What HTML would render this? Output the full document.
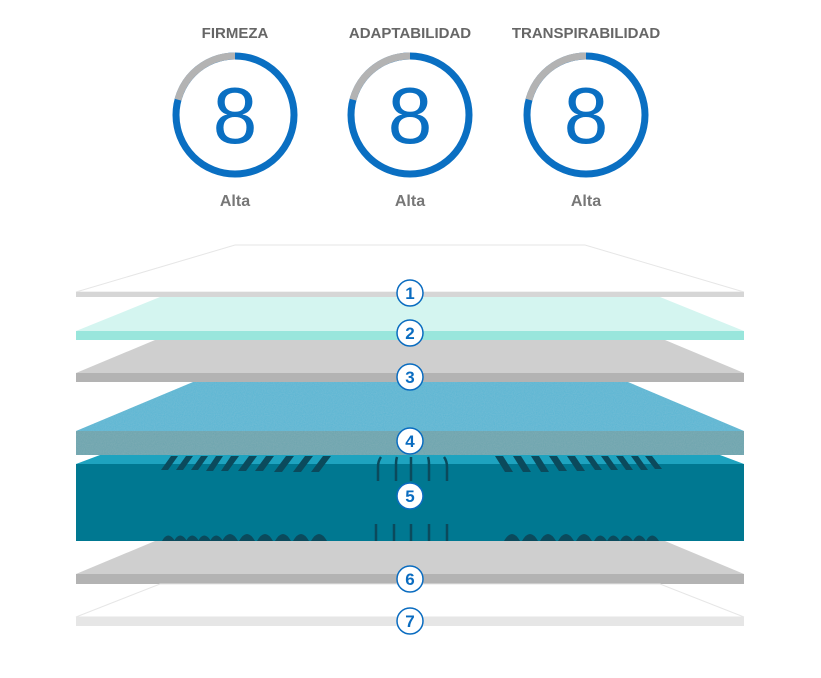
<!DOCTYPE html>
<html><head><meta charset="utf-8"><style>
html,body{margin:0;padding:0;background:#fff;}
svg{display:block;}
text{font-family:"Liberation Sans",sans-serif;}
</style></head><body>
<svg width="821" height="678" viewBox="0 0 821 678" xmlns="http://www.w3.org/2000/svg">
<defs>
<filter id="noise" x="0" y="0" width="100%" height="100%">
<feTurbulence type="fractalNoise" baseFrequency="0.9" numOctaves="2" result="n"/>
<feColorMatrix type="matrix" values="0 0 0 0 1  0 0 0 0 1  0 0 0 0 1  0 0 0 0.08 0"/>
<feComposite in2="SourceGraphic" operator="in"/>
<feBlend in="SourceGraphic" mode="screen"/>
</filter>
</defs>
<!-- gauges -->
<g>
<g transform="translate(235,115)">
<circle r="59" fill="none" stroke="#0a6fc2" stroke-width="7"/>
<path d="M0,-59 A59,59 0 0 0 -57,-15.3" fill="none" stroke="#b3b3b3" stroke-width="7"/>
<text x="0" y="28" text-anchor="middle" font-size="80" fill="#0a6fc2">8</text>
</g>
<text x="235" y="38" text-anchor="middle" font-size="15" font-weight="bold" fill="#666">FIRMEZA</text>
<text x="235" y="206" text-anchor="middle" font-size="16" font-weight="bold" fill="#777">Alta</text>
<g transform="translate(410,115)">
<circle r="59" fill="none" stroke="#0a6fc2" stroke-width="7"/>
<path d="M0,-59 A59,59 0 0 0 -57,-15.3" fill="none" stroke="#b3b3b3" stroke-width="7"/>
<text x="0" y="28" text-anchor="middle" font-size="80" fill="#0a6fc2">8</text>
</g>
<text x="410" y="38" text-anchor="middle" font-size="15" font-weight="bold" fill="#666">ADAPTABILIDAD</text>
<text x="410" y="206" text-anchor="middle" font-size="16" font-weight="bold" fill="#777">Alta</text>
<g transform="translate(586,115)">
<circle r="59" fill="none" stroke="#0a6fc2" stroke-width="7"/>
<path d="M0,-59 A59,59 0 0 0 -57,-15.3" fill="none" stroke="#b3b3b3" stroke-width="7"/>
<text x="0" y="28" text-anchor="middle" font-size="80" fill="#0a6fc2">8</text>
</g>
<text x="586" y="38" text-anchor="middle" font-size="15" font-weight="bold" fill="#666">TRANSPIRABILIDAD</text>
<text x="586" y="206" text-anchor="middle" font-size="16" font-weight="bold" fill="#777">Alta</text>
</g>

<!-- layer 1 -->
<polygon points="235,245 585,245 744,292 76,292" fill="#fff" stroke="#e6e6e6" stroke-width="1"/>
<rect x="76" y="292" width="668" height="5" fill="#d6d6d6"/>
<!-- layer 2 -->
<polygon points="160,297 660,297 744,331 76,331" fill="#d4f5f0"/>
<rect x="76" y="331" width="668" height="9" fill="#99e6dc"/>
<!-- layer 3 -->
<polygon points="155,340 665,340 744,373 76,373" fill="#cfcfcf"/>
<rect x="76" y="373" width="668" height="9" fill="#b3b3b3"/>
<!-- layer 5 top -->
<polygon points="100,455 720,455 744,464 76,464" fill="#1ea3bf"/>
<rect x="76" y="464" width="668" height="77" fill="#007891"/>
<g fill="#0b4a5c">
<path d="M161,470 l10,-14 h7 l-10,14z M176,470 l10,-14 h7 l-10,14z M191,470 l10,-14 h7 l-10,14z M206,471 l10,-15 h7 l-10,15z M221,471 l10,-15 h8 l-11,15z M238,471 l11,-15 h8 l-11,15z M255,471 l11,-15 h8 l-11,15z M274,472 l12,-16 h8 l-12,16z M293,472 l12,-16 h8 l-12,16z M311,472 l12,-16 h8 l-12,16z"/>
<path d="M505,472 l-10,-16 h8 l10,16z M523,472 l-10,-16 h8 l10,16z M541,472 l-10,-16 h8 l10,16z M559,471 l-10,-15 h8 l10,15z M577,471 l-10,-15 h8 l10,15z M595,470 l-10,-14 h7 l10,14z M611,470 l-10,-14 h7 l10,14z M626,470 l-10,-14 h7 l10,14z M641,470 l-10,-14 h7 l10,14z M655,469 l-10,-13 h7 l10,13z"/>
<path d="M162,541 q6,-11 13,0z M174,541 q6,-11 13,0z M186,541 q6,-11 13,0z M198,541 q6,-11 13,0z M210,541 q6,-11 13,0z M222,541 q8,-14 16,0z M239,541 q8,-14 16,0z M257,541 q8,-14 16,0z M275,541 q8,-14 16,0z M293,541 q8,-14 16,0z M311,541 q8,-14 16,0z"/>
<path d="M504,541 q8,-14 16,0z M522,541 q8,-14 16,0z M540,541 q8,-14 16,0z M558,541 q8,-14 16,0z M576,541 q8,-14 16,0z M594,541 q6,-11 13,0z M607,541 q6,-11 13,0z M620,541 q6,-11 13,0z M633,541 q6,-11 13,0z M646,541 q6,-11 13,0z"/>
</g>
<g stroke="#0b4a5c" stroke-width="2.5" fill="none">
<path d="M378,481 v-14 q0,-6 3,-10 M396,481 v-16 q0,-5 1,-8 M411,481 v-24 M429,481 v-16 q0,-5 -1,-8 M447,481 v-14 q0,-6 -3,-10"/>
<path d="M376,524 v17 M394,524 v17 M411,524 v17 M429,524 v17 M447,524 v17"/>
</g>
<!-- layer 4 -->
<g filter="url(#noise)">
<polygon points="193,382 628,382 744,431 76,431" fill="#58b5d2"/>
<rect x="76" y="431" width="668" height="24" fill="#6aa3ad"/>
</g>
<!-- layer 6 -->
<polygon points="155,541 665,541 744,574 76,574" fill="#cfcfcf"/>
<rect x="76" y="574" width="668" height="10" fill="#b3b3b3"/>
<!-- layer 7 -->
<polygon points="160,584 660,584 744,617 76,617" fill="#fff" stroke="#e6e6e6" stroke-width="1"/>
<rect x="76" y="617" width="668" height="9" fill="#e6e6e6"/>
<!-- labels -->
<g font-size="17" font-weight="bold" fill="#0a6cc0" text-anchor="middle">
<circle cx="410" cy="293" r="13" fill="#fff" stroke="#0a6cc0" stroke-width="1.5"/><text x="410" y="299">1</text>
<circle cx="410" cy="333" r="13" fill="#fff" stroke="#0a6cc0" stroke-width="1.5"/><text x="410" y="339">2</text>
<circle cx="410" cy="377" r="13" fill="#fff" stroke="#0a6cc0" stroke-width="1.5"/><text x="410" y="383">3</text>
<circle cx="410" cy="441" r="13" fill="#fff" stroke="#0a6cc0" stroke-width="1.5"/><text x="410" y="447">4</text>
<circle cx="410" cy="496" r="13" fill="#fff" stroke="#0a6cc0" stroke-width="1.5"/><text x="410" y="502">5</text>
<circle cx="410" cy="579" r="13" fill="#fff" stroke="#0a6cc0" stroke-width="1.5"/><text x="410" y="585">6</text>
<circle cx="410" cy="621" r="13" fill="#fff" stroke="#0a6cc0" stroke-width="1.5"/><text x="410" y="627">7</text>
</g>
</svg>
</body></html>
